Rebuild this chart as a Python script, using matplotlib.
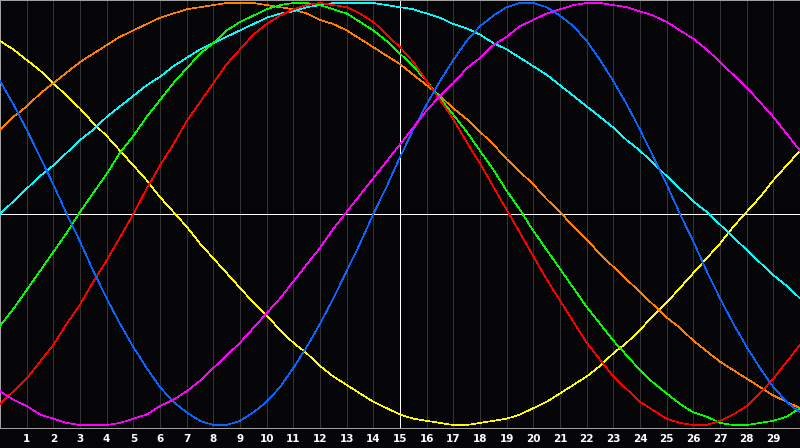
import numpy as np
import matplotlib
matplotlib.use("Agg")
import matplotlib.pyplot as plt

# values at x = 0, 0.5, 1, ..., 30
x = [i / 2 for i in range(61)]

yellow = [0.82, 0.78, 0.73, 0.68, 0.62, 0.56, 0.50, 0.43, 0.37, 0.30,
          0.23, 0.16, 0.08, 0.01, -0.06, -0.14, -0.21, -0.28, -0.35, -0.42,
          -0.48, -0.55, -0.61, -0.66, -0.72, -0.77, -0.81, -0.85, -0.89, -0.92,
          -0.95, -0.97, -0.98, -0.99, -1.00, -1.00, -0.99, -0.98, -0.97, -0.95,
          -0.92, -0.89, -0.85, -0.81, -0.77, -0.72, -0.66, -0.61, -0.55, -0.48,
          -0.42, -0.35, -0.28, -0.21, -0.14, -0.06, 0.01, 0.08, 0.16, 0.23,
          0.30]
orange = [0.40, 0.46, 0.51, 0.57, 0.62, 0.67, 0.72, 0.76, 0.80, 0.84,
          0.87, 0.90, 0.93, 0.95, 0.97, 0.98, 0.99, 1.00, 1.00, 1.00,
          0.99, 0.98, 0.97, 0.95, 0.92, 0.90, 0.87, 0.83, 0.79, 0.75,
          0.71, 0.66, 0.61, 0.56, 0.50, 0.45, 0.39, 0.33, 0.26, 0.20,
          0.14, 0.07, 0.01, -0.06, -0.12, -0.19, -0.25, -0.31, -0.37, -0.43,
          -0.49, -0.54, -0.60, -0.65, -0.70, -0.74, -0.78, -0.82, -0.86, -0.89,
          -0.92]
cyan = [0.00, 0.06, 0.12, 0.18, 0.23, 0.29, 0.35, 0.40, 0.46, 0.51,
        0.56, 0.61, 0.65, 0.70, 0.74, 0.78, 0.81, 0.84, 0.87, 0.90,
        0.93, 0.95, 0.96, 0.98, 0.99, 1.00, 1.00, 1.00, 1.00, 0.99,
        0.98, 0.97, 0.95, 0.93, 0.90, 0.88, 0.85, 0.81, 0.78, 0.74,
        0.70, 0.66, 0.61, 0.56, 0.51, 0.46, 0.41, 0.35, 0.30, 0.24,
        0.18, 0.12, 0.06, 0.01, -0.05, -0.11, -0.17, -0.23, -0.29, -0.34,
        -0.40]
green = [-0.53, -0.45, -0.36, -0.27, -0.18, -0.09, 0.01, 0.10, 0.19, 0.29,
         0.37, 0.46, 0.54, 0.62, 0.69, 0.76, 0.81, 0.87, 0.91, 0.94,
         0.97, 0.99, 1.00, 1.00, 0.99, 0.97, 0.95, 0.91, 0.87, 0.82,
         0.76, 0.70, 0.63, 0.55, 0.47, 0.39, 0.30, 0.21, 0.11, 0.02,
         -0.08, -0.17, -0.26, -0.35, -0.44, -0.52, -0.60, -0.67, -0.74, -0.80,
         -0.85, -0.90, -0.94, -0.96, -0.99, -1.00, -1.00, -0.99, -0.98, -0.96,
         -0.92]
red = [-0.90, -0.84, -0.78, -0.70, -0.62, -0.52, -0.43, -0.32, -0.22, -0.11,
       0.00, 0.12, 0.23, 0.33, 0.44, 0.53, 0.62, 0.71, 0.78, 0.85,
       0.90, 0.94, 0.97, 0.99, 1.00, 0.99, 0.98, 0.95, 0.91, 0.85,
       0.79, 0.72, 0.63, 0.54, 0.45, 0.34, 0.24, 0.13, 0.02, -0.09,
       -0.20, -0.31, -0.41, -0.51, -0.61, -0.69, -0.77, -0.83, -0.89, -0.93,
       -0.97, -0.99, -1.00, -1.00, -0.98, -0.95, -0.91, -0.85, -0.78, -0.70,
       -0.62]
blue = [0.63, 0.52, 0.40, 0.27, 0.14, 0.00, -0.13, -0.27, -0.40, -0.52,
        -0.63, -0.73, -0.82, -0.89, -0.94, -0.98, -1.00, -1.00, -0.98, -0.94,
        -0.89, -0.82, -0.73, -0.63, -0.52, -0.40, -0.27, -0.14, 0.00, 0.13,
        0.27, 0.40, 0.52, 0.63, 0.73, 0.82, 0.89, 0.94, 0.98, 1.00,
        1.00, 0.98, 0.94, 0.89, 0.82, 0.73, 0.63, 0.52, 0.40, 0.27,
        0.14, 0.00, -0.13, -0.27, -0.40, -0.52, -0.63, -0.73, -0.82, -0.89,
        -0.94]
magenta = [-0.84, -0.88, -0.91, -0.95, -0.97, -0.99, -1.00, -1.00, -1.00, -0.99,
           -0.97, -0.95, -0.91, -0.88, -0.84, -0.79, -0.73, -0.67, -0.61, -0.54,
           -0.47, -0.40, -0.32, -0.24, -0.16, -0.07, 0.01, 0.09, 0.17, 0.25,
           0.33, 0.41, 0.49, 0.56, 0.62, 0.69, 0.74, 0.80, 0.84, 0.89,
           0.92, 0.95, 0.97, 0.99, 1.00, 1.00, 0.99, 0.98, 0.96, 0.94,
           0.91, 0.87, 0.83, 0.78, 0.72, 0.66, 0.60, 0.53, 0.46, 0.38,
           0.30]

series = [
    (yellow, "#ffff00"),
    (orange, "#ff8000"),
    (cyan, "#00ffff"),
    (green, "#00ff00"),
    (red, "#ff0000"),
    (blue, "#0a64ff"),
    (magenta, "#ff00ff"),
]

ticks = list(range(1, 30))
bg = "#050508"
px = 0.72  # one pixel at 100 dpi

fig = plt.figure(figsize=(8, 4.48), dpi=100, facecolor=bg)
ax = fig.add_axes([0, 20 / 448, 1, 428 / 448])
ax.set_facecolor(bg)

for t in ticks:
    ax.axvline(t, color="#333333", lw=px, zorder=1, antialiased=False)
ax.axvline(15, color="white", lw=px, zorder=2, antialiased=False)
ax.axhline(0, color="white", lw=px, zorder=2, antialiased=False)

for vals, col in series:
    ax.plot(x, vals, color=col, lw=0.45, zorder=3, antialiased=False)

ax.set_xlim(0, 30)
ax.set_ylim(-1.014, 1.014)
ax.set_xticks(ticks)
ax.set_xticklabels([str(t) for t in ticks], color="white",
                   fontsize=7.5, fontweight="bold")
ax.tick_params(axis="x", length=0, pad=4)
ax.set_yticks([])
for side, sp in ax.spines.items():
    sp.set_color("#a0a0a0")
    sp.set_linewidth(px)
ax.spines["right"].set_visible(False)

fig.savefig("out.png", dpi=100, facecolor=bg)
